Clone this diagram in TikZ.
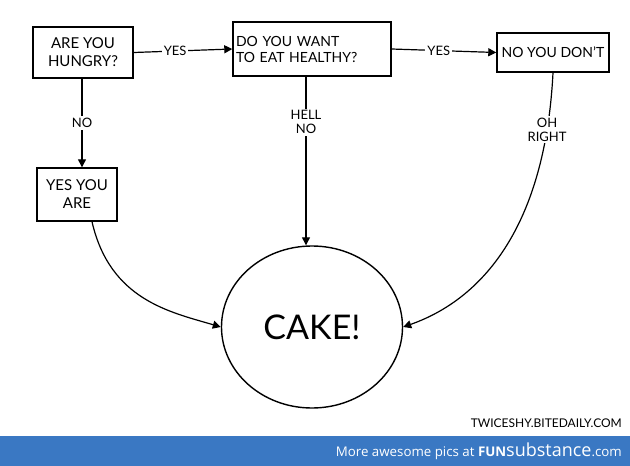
\documentclass[tikz,border=0pt]{standalone}
\usepackage{fontspec}
\setmainfont{Lato}
\newfontfamily\bannerfont{Open Sans}
\usetikzlibrary{arrows.meta,shapes.geometric}
\definecolor{bannerblue}{HTML}{3A78C3}
\begin{document}
\begin{tikzpicture}[x=1pt,y=-1pt,
  box/.style={draw, line width=1.4pt, inner sep=2pt, font=\fontsize{14}{16}\selectfont, align=center},
  conn/.style={line width=1.2pt, -{Triangle[length=8pt,width=8pt]}},
  lbl/.style={fill=white, inner sep=2pt, font=\fontsize{13}{14}\selectfont, align=center}]
\useasboundingbox (0,0) rectangle (630,466);
\fill[white] (0,0) rectangle (630,466);
% banner
\fill[bannerblue] (0,436) rectangle (630,466);
\node[anchor=east, text=white, inner sep=0pt, font=\bannerfont] (banner) at (622,451.5)
  {\fontsize{13.3}{15}\selectfont More awesome pics at \textbf{FUN}\fontsize{18}{19}\selectfont substance\fontsize{13.3}{15}\selectfont .com};
% credit
\node[anchor=east, inner sep=0pt, font=\fontsize{12}{13}\selectfont] (credit) at (622,423) {TWICESHY.BITEDAILY.COM};
% boxes
\node[box, minimum width=100pt, minimum height=51pt, font=\fontsize{15}{18}\selectfont] (hungry) at (83,52.5) {ARE YOU\\HUNGRY?};
\node[box, text width=152pt, minimum height=54pt, inner xsep=3pt, align=left] (healthy) at (312,49) {DO YOU WANT\\TO EAT HEALTHY?};
\node[box, minimum width=112pt, minimum height=39pt] (dont) at (553,52.5) {NO YOU DON'T};
\node[box, minimum width=80pt, minimum height=53pt, font=\fontsize{15}{18}\selectfont] (yesare) at (77,194.5) {YES YOU\\ARE};
\node[draw, ellipse, line width=1.4pt, minimum width=181pt, minimum height=162pt,
  font=\fontsize{34}{36}\selectfont] (cake) at (312,327) {CAKE!};
% connectors
\draw[conn] (hungry.east) -- node[lbl, pos=0.42] {YES} (healthy.west);
\draw[conn] (healthy.east) -- node[lbl, pos=0.45] {YES} (dont.west);
\draw[conn] (hungry.south -| 82,0) -- node[lbl] {NO} (yesare.north -| 82,0);
\draw[conn] (healthy.south -| 306,0) -- node[lbl, pos=0.27] {HELL\\NO} (cake.north -| 306,0);
\draw[conn] (dont.south) .. controls (545,230) and (480,300) .. node[lbl, pos=0.13] {OH\\RIGHT} (cake.east);
\draw[conn] (yesare.south -| 92,0) .. controls (110,300) and (170,312) .. (cake.west);
\end{tikzpicture}
\end{document}
